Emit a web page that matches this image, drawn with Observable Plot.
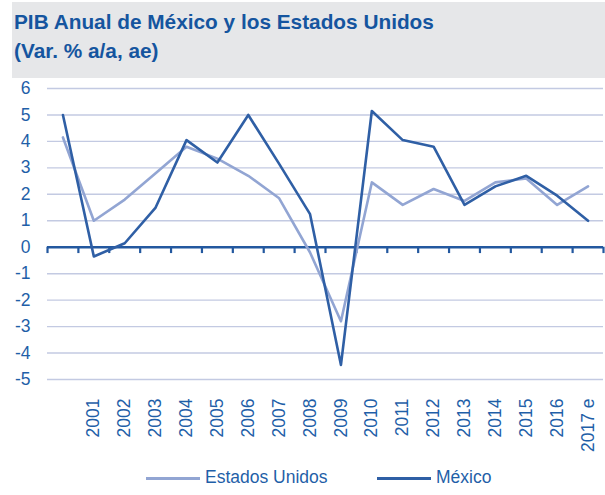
<!DOCTYPE html>
<html>
<head>
<meta charset="utf-8">
<script src="https://cdn.jsdelivr.net/npm/d3@7"></script>
<script src="https://cdn.jsdelivr.net/npm/@observablehq/plot@0.6"></script>
<style>
  html, body { margin: 0; padding: 0; background: #fff; }
  body { width: 605px; height: 495px; position: relative; overflow: hidden; font-family: "Liberation Sans", Arial, sans-serif; }
  #title { position: absolute; left: 12px; top: 2px; width: 593px; height: 76px; background: #e6e7e9; }
  #title div { position: absolute; left: 2px; color: #15559f; font-weight: bold; font-size: 20.8px; white-space: nowrap; }
  #chart { position: absolute; left: 0; top: 66px; }
  #legend { position: absolute; top: 466px; left: 0; width: 605px; height: 24px; }
  .sw { position: absolute; top: 11px; height: 3px; width: 54px; }
  .lt { position: absolute; top: 1px; font-size: 17.5px; color: #1f5fa8; white-space: nowrap; }
</style>
</head>
<body>
<div id="title">
  <div style="top:8px">PIB Anual de México y los Estados Unidos</div>
  <div style="top:37px">(Var. % a/a, ae)</div>
</div>
<div id="chart"></div>
<div id="legend">
  <div class="sw" style="left:146px;background:#92a5d3"></div>
  <div class="lt" style="left:205px">Estados Unidos</div>
  <div class="sw" style="left:377px;background:#2f5fa5"></div>
  <div class="lt" style="left:436px">México</div>
</div>
<script>
const years = ["2000","2001","2002","2003","2004","2005","2006","2007","2008","2009","2010","2011","2012","2013","2014","2015","2016","2017 e"];
const tickLabels = ["","2001","2002","2003","2004","2005","2006","2007","2008","2009","2010","2011","2012","2013","2014","2015","2016","2017 e"];
const estadosUnidos = [4.15, 1.0, 1.8, 2.8, 3.8, 3.35, 2.7, 1.85, -0.2, -2.8, 2.45, 1.6, 2.2, 1.75, 2.45, 2.6, 1.6, 2.3];
const mexico = [5.0, -0.35, 0.15, 1.5, 4.05, 3.2, 5.0, 3.15, 1.25, -4.45, 5.15, 4.05, 3.8, 1.6, 2.3, 2.7, 1.95, 1.0];
const yTicks = [-5,-4,-3,-2,-1,0,1,2,3,4,5,6];

const colUS = "#92a5d3";
const colMX = "#2f5fa5";
const textCol = "#1f5fa8";

const rows = years.map((y, i) => ({i, year: y, label: tickLabels[i], us: estadosUnidos[i], mx: mexico[i]}));
const bounds = d3.range(years.length + 1);

const chart = Plot.plot({
  width: 605,
  height: 399,
  marginTop: 22,
  marginBottom: 86,
  marginLeft: 47,
  marginRight: 2,
  x: {type: "linear", domain: [0, years.length], axis: null},
  y: {domain: [-5, 6], axis: null},
  style: {fontFamily: "Liberation Sans, Arial, sans-serif", color: textCol, background: "transparent"},
  marks: [
    Plot.ruleY(yTicks.filter(d => d !== 0), {stroke: "#c3cae2", strokeWidth: 1.4}),
    Plot.axisY(yTicks, {tickSize: 0, tickPadding: 17, fontSize: 17.5, fill: textCol, tickFormat: d => String(d)}),
    Plot.ruleX(bounds, {x: d => d, y1: 0, y2: -0.24, stroke: "#23589f", strokeWidth: 2.2}),
    Plot.ruleY([0], {stroke: "#23589f", strokeWidth: 2.6}),
    Plot.line(rows, {x: d => d.i + 0.5, y: "us", stroke: colUS, strokeWidth: 2.6}),
    Plot.line(rows, {x: d => d.i + 0.5, y: "mx", stroke: colMX, strokeWidth: 2.6}),
    Plot.text(rows, {x: d => d.i + 0.5, text: "label", frameAnchor: "bottom", dy: 19, rotate: -90, textAnchor: "end", lineAnchor: "middle", fontSize: 17.5, fill: textCol})
  ]
});
document.getElementById("chart").appendChild(chart);
</script>
</body>
</html>
